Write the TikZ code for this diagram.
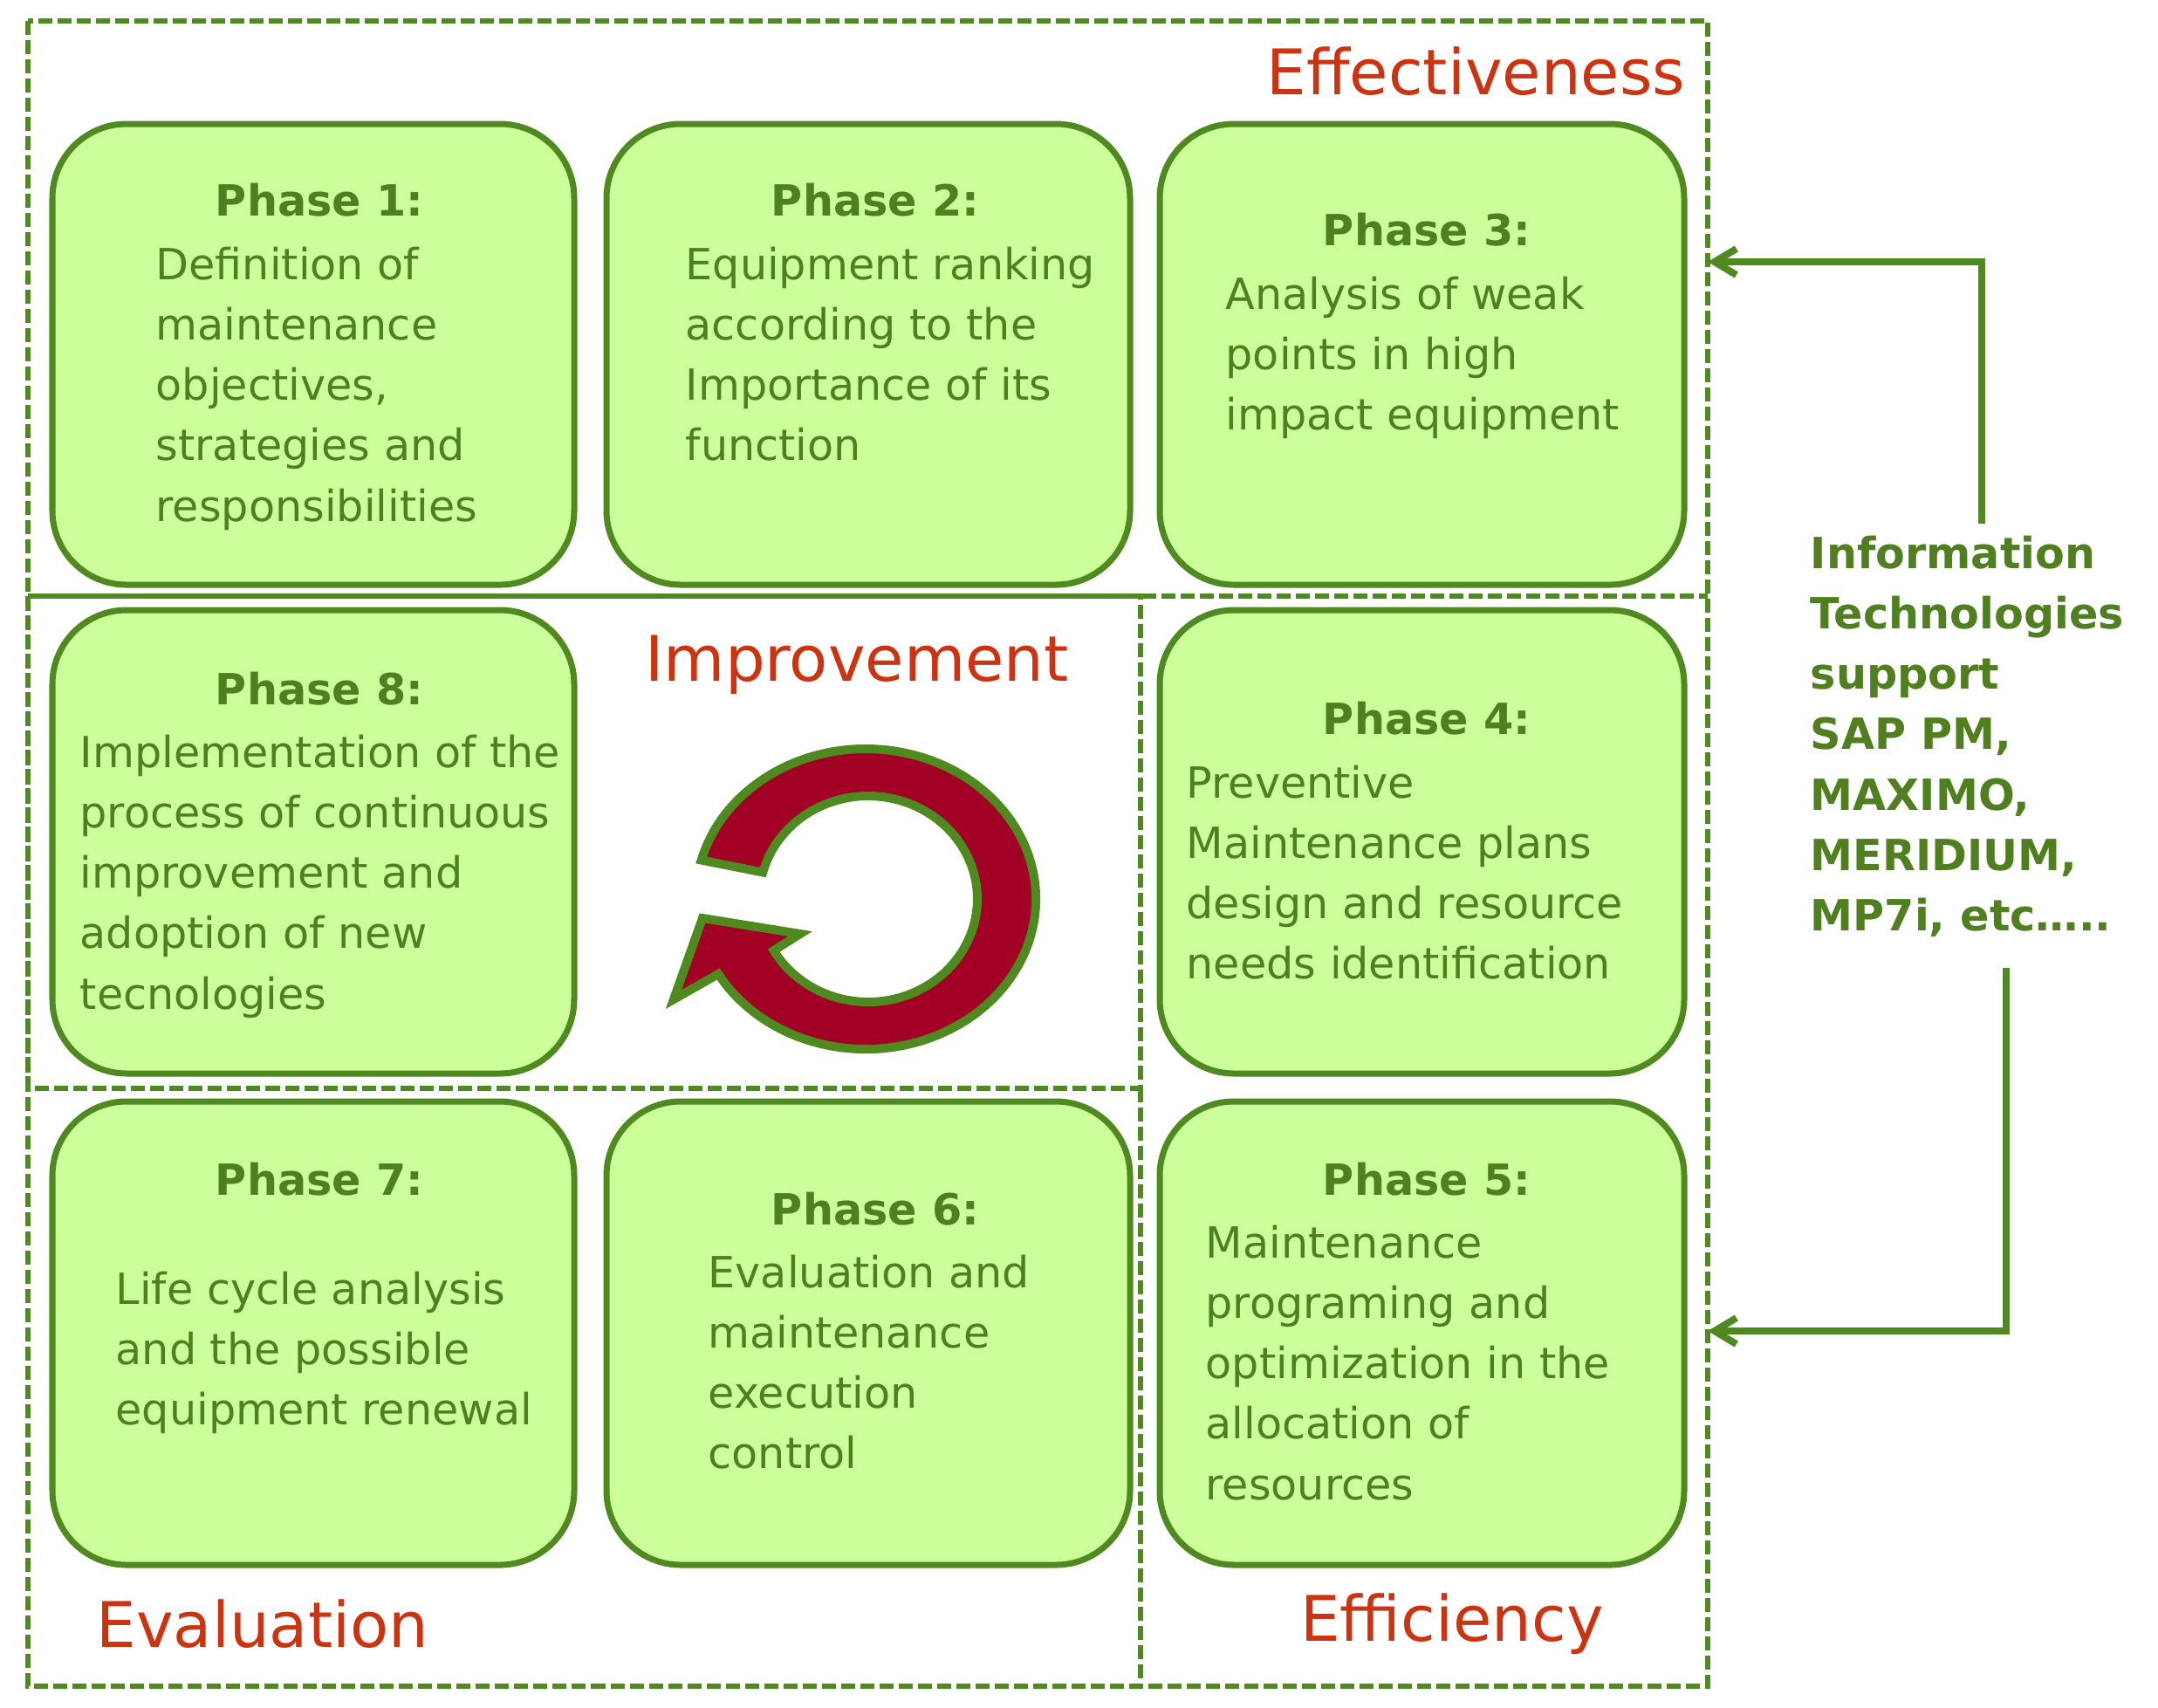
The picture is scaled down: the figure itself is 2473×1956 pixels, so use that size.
\documentclass[tikz,border=0pt]{standalone}
\usepackage{fontspec}
\setmainfont{DejaVu Sans}
\usetikzlibrary{arrows.meta}
\begin{document}
\definecolor{gfill}{HTML}{CCFF99}
\definecolor{gline}{HTML}{4E8A1F}
\definecolor{gtext}{HTML}{4F7F1F}
\definecolor{rtext}{HTML}{CC3311}
\definecolor{arrred}{HTML}{A20024}
\begin{tikzpicture}[x=0.01cm,y=-0.01cm,
  box/.style={draw=gline,fill=gfill,line width=0.07cm,rounded corners=0.85cm},
  dframe/.style={draw=gline,line width=0.065cm,dash pattern=on 0.16cm off 0.06cm},
  ttl/.style={text=gtext,font=\fontsize{14}{19.7}\selectfont\bfseries,inner sep=0},
  body/.style={text=gtext,font=\fontsize{14}{19.7}\selectfont,align=left,anchor=north west,inner sep=0},
  lab/.style={text=rtext,font=\fontsize{20.5}{26}\selectfont,inner sep=0},
  conn/.style={draw=gline,line width=0.08cm,-{Straight Barb[length=0.25cm,width=0.3cm]}}]
\useasboundingbox (0,0) rectangle (2473,1956);
% dashed frames
\draw[dframe] (32,24) rectangle (1957,1932);
\draw[dframe] (32,683) -- (1957,683);
\draw[dframe] (32,683) rectangle (1307,1247);
\draw[dframe] (1307,1247) -- (1307,1932);
% boxes
\draw[box] (60,142) rectangle (658,670);
\draw[box] (695,142) rectangle (1295,670);
\draw[box] (1329,142) rectangle (1930,670);
\draw[box] (60,699) rectangle (658,1230);
\draw[box] (1329,699) rectangle (1930,1230);
\draw[box] (60,1262) rectangle (658,1793);
\draw[box] (695,1262) rectangle (1295,1793);
\draw[box] (1329,1262) rectangle (1930,1793);
% texts
\node[ttl] (t1) at (366,229) {Phase 1:};
\node[body] (b1) at (178,282) {Definition of\\maintenance\\objectives,\\strategies and\\responsibilities};
\node[ttl] (t2) at (1003,229) {Phase 2:};
\node[body] (b2) at (785,282) {Equipment ranking\\according to the\\Importance of its\\function};
\node[ttl] (t3) at (1635,263) {Phase 3:};
\node[body] (b3) at (1404,316) {Analysis of weak\\points in high\\impact equipment};
\node[ttl] (t8) at (366,789) {Phase 8:};
\node[body] (b8) at (91,841) {Implementation of the\\process of continuous\\improvement and\\adoption of new\\tecnologies};
\node[ttl] (t4) at (1635,823) {Phase 4:};
\node[body] (b4) at (1359,876) {Preventive\\Maintenance plans\\design and resource\\needs identification};
\node[ttl] (t7) at (366,1351) {Phase 7:};
\node[body] (b7) at (132,1456) {Life cycle analysis\\and the possible\\equipment renewal};
\node[ttl] (t6) at (1003,1385) {Phase 6:};
\node[body] (b6) at (811,1437) {Evaluation and\\maintenance\\execution\\control};
\node[ttl] (t5) at (1635,1351) {Phase 5:};
\node[body] (b5) at (1381,1403) {Maintenance\\programing and\\optimization in the\\allocation of\\resources};
\node[body,font=\fontsize{14}{19.7}\selectfont\bfseries] (it) at (2074,613) {Information\\Technologies\\support\\SAP PM,\\MAXIMO,\\MERIDIUM,\\MP7i, etc\dots..};
\node[lab,anchor=east] (eff) at (1932,82) {Effectiveness};
\node[lab] (imp) at (982,762) {Improvement};
\node[lab,anchor=west] (ev) at (110,1861) {Evaluation};
\node[lab] (efc) at (1664,1861) {Efficiency};
% connectors
\coordinate (a0) at (2271,600);
\coordinate (a1) at (2271,300);
\coordinate (a2) at (1957,300);
\coordinate (c0) at (2299,1109);
\coordinate (c1) at (2299,1525);
\coordinate (c2) at (1957,1525);
\draw[conn] (a0) -- (a1) -- (a2);
\draw[conn] (c0) -- (c1) -- (c2);
% circular arrow
\draw[draw=gline,fill=arrred,line width=0.1cm,line join=miter]
  (803.7,985.5) arc[start angle=-165,end angle=150,x radius=195,y radius=172]
  -- (772,1145) -- (805,1052) -- (917,1070) -- (886.7,1089)
  arc[start angle=150,end angle=-165,x radius=125,y radius=118]
  -- cycle;
\end{tikzpicture}
\end{document}
